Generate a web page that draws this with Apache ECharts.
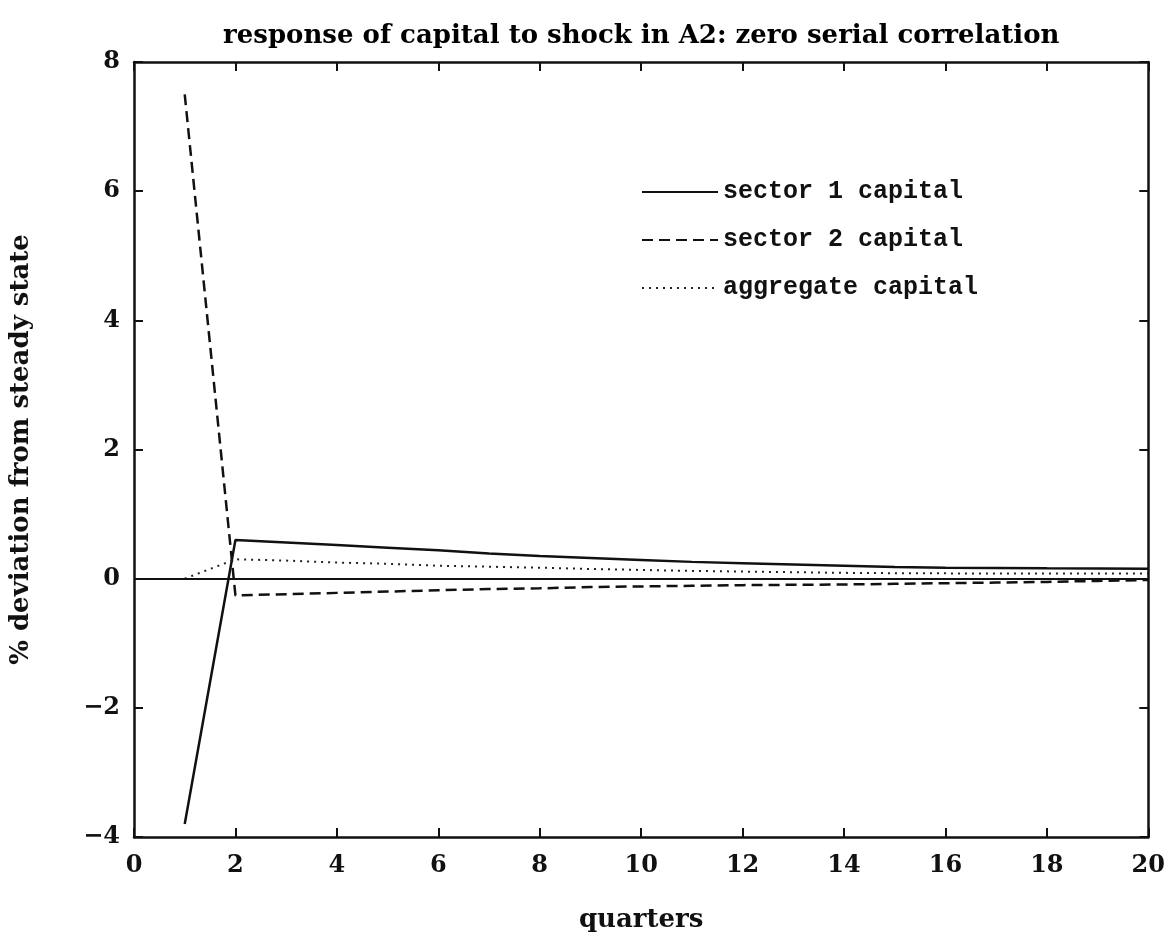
<!DOCTYPE html>
<html>
<head>
<meta charset="utf-8">
<script src="https://cdn.jsdelivr.net/npm/echarts@6/dist/echarts.min.js"></script>
<style>html,body{margin:0;padding:0;background:#fff;}#c{width:1168px;height:952px;}</style>
</head>
<body>
<div id="c"></div>
<script>
var quarters = [1,2,3,4,5,6,7,8,9,10,11,12,13,14,15,16,17,18,19,20];
var sector1 = [-3.80,0.60,0.56,0.52,0.48,0.44,0.39,0.35,0.32,0.29,0.26,0.24,0.22,0.20,0.18,0.17,0.165,0.16,0.158,0.155];
var sector2 = [7.50,-0.26,-0.24,-0.22,-0.20,-0.18,-0.16,-0.15,-0.13,-0.12,-0.11,-0.10,-0.095,-0.09,-0.08,-0.07,-0.06,-0.05,-0.035,-0.02];
var aggregate = [0.00,0.30,0.28,0.25,0.23,0.20,0.185,0.17,0.15,0.135,0.12,0.11,0.10,0.09,0.085,0.082,0.08,0.08,0.08,0.08];
var xTicks = [0,2,4,6,8,10,12,14,16,18,20];
var yTicks = [-4,-2,0,2,4,6,8];
var seriesNames = ['sector 1 capital','sector 2 capital','aggregate capital'];

function pairs(ys){ return quarters.map(function(q,i){ return [q, ys[i]]; }); }

var serif = 'DejaVu Serif';
var chart = echarts.init(document.getElementById('c'), null, {renderer:'canvas'});
var axisLineStyle = {color:'#111', width:2.5};
chart.setOption({
  backgroundColor:'#fff',
  animation:false,
  title:{
    text:'response of capital to shock in A2: zero serial correlation',
    left:218, top:18,
    textStyle:{fontFamily:serif, fontWeight:'bold', fontSize:26, color:'#000'}
  },
  legend:{
    orient:'vertical', left:636, top:172,
    itemWidth:76, itemHeight:14, itemGap:18,
    data:seriesNames,
    itemStyle:{opacity:0},
    textStyle:{fontFamily:'Liberation Mono', fontWeight:'bold', fontSize:25, color:'#111', lineHeight:30}
  },
  grid:{left:133, right:15, top:62, bottom:115},
  xAxis:[{
    type:'value', min:0, max:20, interval:2,
    name:'quarters', nameLocation:'middle', nameGap:70,
    nameTextStyle:{fontFamily:serif, fontWeight:'bold', fontSize:26, color:'#111'},
    axisLine:{show:true, onZero:false, lineStyle:axisLineStyle},
    axisTick:{show:true, inside:true, length:9, lineStyle:{color:'#111', width:2}},
    axisLabel:{fontFamily:serif, fontWeight:'bold', fontSize:24, color:'#111', margin:17,
      formatter:function(v){ return xTicks.indexOf(v)>=0 ? String(v) : ''; }},
    splitLine:{show:false}
  },{
    type:'value', min:0, max:20, interval:2, position:'top',
    axisLine:{show:true, onZero:false, lineStyle:axisLineStyle},
    axisTick:{show:true, inside:true, length:9, lineStyle:{color:'#111', width:2}},
    axisLabel:{show:false}, splitLine:{show:false}
  }],
  yAxis:[{
    type:'value', min:-4, max:8, interval:2,
    name:'% deviation from steady state', nameLocation:'middle', nameGap:100, nameRotate:90,
    nameTextStyle:{fontFamily:serif, fontWeight:'bold', fontSize:26, color:'#111'},
    axisLine:{show:true, onZero:false, lineStyle:axisLineStyle},
    axisTick:{show:true, inside:true, length:9, lineStyle:{color:'#111', width:2}},
    axisLabel:{fontFamily:serif, fontWeight:'bold', fontSize:24, color:'#111', margin:14,
      formatter:function(v){ return yTicks.indexOf(v)>=0 ? (v<0 ? '\u2212'+Math.abs(v) : String(v)) : ''; }},
    splitLine:{show:false}
  },{
    type:'value', min:-4, max:8, interval:2, position:'right',
    axisLine:{show:true, onZero:false, lineStyle:axisLineStyle},
    axisTick:{show:true, inside:true, length:9, lineStyle:{color:'#111', width:2}},
    axisLabel:{show:false}, splitLine:{show:false}
  }],
  series:[
    {name:seriesNames[0], type:'line', data:pairs(sector1), symbol:'none',
     lineStyle:{color:'#111', width:2.5, type:'solid'}, itemStyle:{color:'#111'},
     markLine:{silent:true, symbol:'none', label:{show:false},
       lineStyle:{color:'#111', width:1.8, type:'solid'}, data:[{yAxis:0}]}},
    {name:seriesNames[1], type:'line', data:pairs(sector2), symbol:'none',
     lineStyle:{color:'#111', width:2.5, type:[11,6]}, itemStyle:{color:'#111'}},
    {name:seriesNames[2], type:'line', data:pairs(aggregate), symbol:'none',
     lineStyle:{color:'#222', width:2, type:[2,5]}, itemStyle:{color:'#222'}}
  ]
});
</script>
</body>
</html>
